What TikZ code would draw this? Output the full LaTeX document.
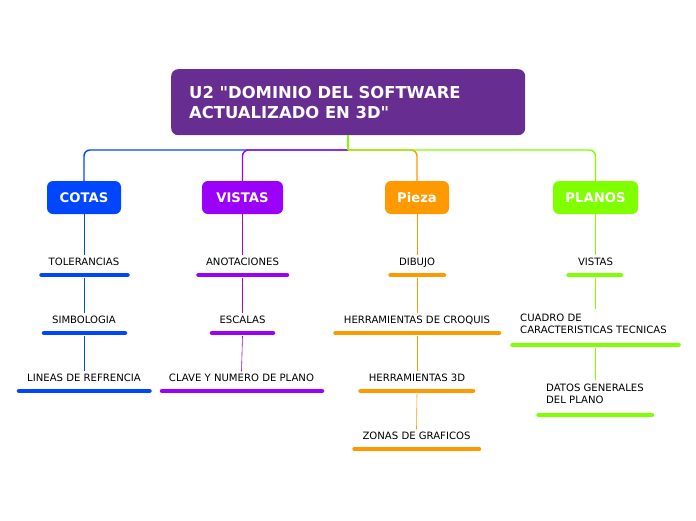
\documentclass[tikz,border=0pt]{standalone}
\usepackage{fontspec}
\setmainfont{DejaVu Sans}[Ligatures=TeXOff]
\begin{document}
\begin{tikzpicture}[x=1pt,y=-1pt,
  titlebox/.style={fill=cTitle,rounded corners=7pt,minimum width=354pt,minimum height=66pt,anchor=north west,inner sep=0pt},
  branch/.style={rounded corners=6pt,minimum height=33pt,inner sep=0pt,text=white,font=\fontsize{13.2}{15}\selectfont\bfseries},
  leaf/.style={font=\fontsize{10.1}{12}\selectfont,inner xsep=0pt,inner ysep=3pt,text height=7pt,text depth=2pt,anchor=base},
  uline/.style={line width=4.5pt,line cap=round},
  trunk/.style={line width=1.4pt,rounded corners=6pt},
  twig/.style={line width=0.6pt},
]
\definecolor{cTitle}{HTML}{672D91}
\definecolor{cBlue}{HTML}{0046FF}
\definecolor{cPurple}{HTML}{9B00F8}
\definecolor{cOrange}{HTML}{FF9900}
\definecolor{cGreen}{HTML}{80FF00}
\useasboundingbox (0,0) rectangle (696,520);
\fill[white] (0,0) rectangle (696,520);

% title
\node[titlebox] (title) at (171,69) {};
\node[anchor=west,text=white,font=\fontsize{16.4}{20}\selectfont\bfseries,align=left,inner sep=0pt] (tt) at (189,102.5) {U2 "DOMINIO DEL SOFTWARE\\ACTUALIZADO EN 3D"};
\coordinate (stem) at (348,135);
\coordinate (junc) at (348,150);

% branches
\node[branch,fill=cBlue,minimum width=74pt] (cotas) at (84,197.5) {COTAS};
\node[branch,fill=cPurple,minimum width=81pt] (vistas) at (242.5,197.5) {VISTAS};
\node[branch,fill=cOrange,minimum width=64pt] (pieza) at (417,197.5) {Pieza};
\node[branch,fill=cGreen,minimum width=85pt] (planos) at (595.5,197.5) {PLANOS};

% trunk connectors
\draw[trunk,cBlue] (junc) -| (cotas.north);
\draw[trunk,cPurple] (junc) -| (vistas.north);
\draw[trunk,cOrange] (junc) -| (pieza.north);
\draw[trunk,cGreen] (junc) -| (planos.north);
\draw[line width=1.4pt,cGreen] (stem) -- (junc);

% COTAS column
\node[leaf] (c1) at (84,265.5) {TOLERANCIAS};
\node[leaf] (c2) at (84,323.5) {SIMBOLOGIA};
\node[leaf] (c3) at (84,381.5) {LINEAS DE REFRENCIA};
\coordinate (cu1) at (84,275); \coordinate (cu2) at (84,333); \coordinate (cu3) at (84,391);
\draw[uline,cBlue] (41.5,275) -- (127.5,275);
\draw[uline,cBlue] (44,333) -- (125,333);
\draw[uline,cBlue] (19,391) -- (149.5,391);
\draw[twig,cBlue] (cotas.south) -- (c1.north);
\draw[twig,cBlue] (cu1) ++(0,3) -- (c2.north);
\draw[twig,cBlue] (cu2) ++(0,3) -- (c3.north);

% VISTAS column
\node[leaf] (v1) at (242.5,265.5) {ANOTACIONES};
\node[leaf] (v2) at (242.5,323.5) {ESCALAS};
\node[leaf] (v3) at (241.5,381.5) {CLAVE Y NUMERO DE PLANO};
\coordinate (vu1) at (242.5,275); \coordinate (vu2) at (242.5,333);
\draw[uline,cPurple] (198.5,275) -- (287,275);
\draw[uline,cPurple] (212,333) -- (273,333);
\draw[uline,cPurple] (162,391) -- (322,391);
\draw[twig,cPurple] (vistas.south) -- (v1.north);
\draw[twig,cPurple] (vu1) ++(0,3) -- (v2.north);
\draw[twig,cPurple] (vu2) ++(0,3) -- (v3.north);

% Pieza column
\node[leaf] (p1) at (417,265.5) {DIBUJO};
\node[leaf] (p2) at (417,323.5) {HERRAMIENTAS DE CROQUIS};
\node[leaf] (p3) at (417,381.5) {HERRAMIENTAS 3D};
\node[leaf] (p4) at (416.5,439.5) {ZONAS DE GRAFICOS};
\coordinate (pu1) at (417,275); \coordinate (pu2) at (417,333); \coordinate (pu3) at (417,391);
\draw[uline,cOrange] (390.5,275) -- (444,275);
\draw[uline,cOrange] (335.5,333) -- (499,333);
\draw[uline,cOrange] (360.5,391) -- (473,391);
\draw[uline,cOrange] (354.5,449) -- (479,449);
\draw[twig,cOrange] (pieza.south) -- (p1.north);
\draw[twig,cOrange] (pu1) ++(0,3) -- (p2.north);
\draw[twig,cOrange] (pu2) ++(0,3) -- (p3.north);
\draw[twig,cOrange] (pu3) ++(0,3) -- (p4.north);

% PLANOS column
\node[leaf] (g1) at (595.5,265.5) {VISTAS};
\node[leaf,anchor=north west,align=left,text height=,text depth=,inner ysep=0pt] (g2) at (520,314) {CUADRO DE\\CARACTERISTICAS TECNICAS};
\node[leaf,anchor=north west,align=left,text height=,text depth=,inner ysep=0pt] (g3) at (546,384) {DATOS GENERALES\\DEL PLANO};
\coordinate (gu1) at (595.5,275); \coordinate (gu2) at (595.5,345);
\coordinate (g2top) at (595.5,309); \coordinate (g3top) at (595.5,380);
\draw[uline,cGreen] (568.5,275) -- (621,275);
\draw[uline,cGreen] (512.5,345) -- (678.5,345);
\draw[uline,cGreen] (538.5,415) -- (652,415);
\draw[twig,cGreen] (planos.south) -- (g1.north);
\draw[twig,cGreen] (gu1) ++(0,3) -- (g2top);
\draw[twig,cGreen] (gu2) ++(0,3) -- (g3top);
\end{tikzpicture}
\end{document}
